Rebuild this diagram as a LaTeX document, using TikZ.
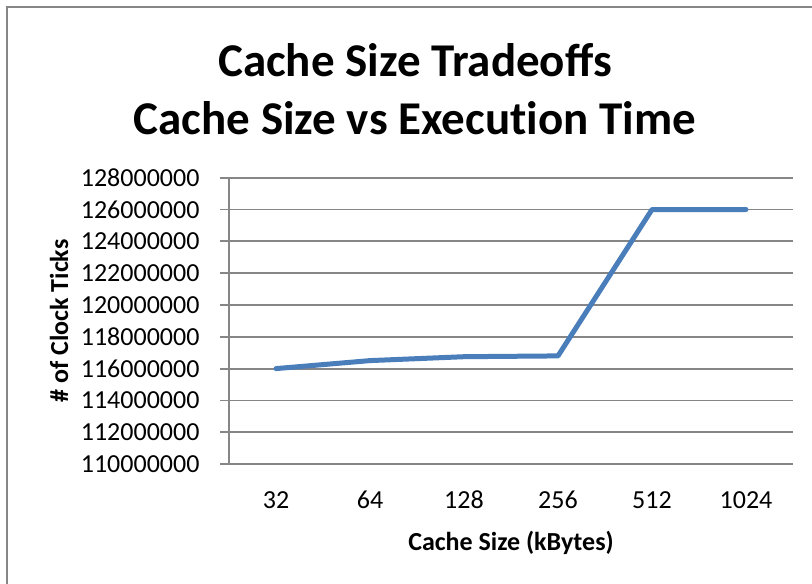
\documentclass[tikz,border=0pt]{standalone}
\usepackage{fontspec}
\setmainfont{Carlito}
\usetikzlibrary{calc}
\definecolor{axisGray}{HTML}{868686}
\definecolor{seriesBlue}{HTML}{4A7EBB}
\newcommand{\drawGridLine}[3]{
	\draw[gridline] (Y_L |- 0,#2) -- (Y_R |- 0,#2);
	\draw[gridline] ($(Y_L |- 0,#2)+(-9,0)$) -- (Y_L |- 0,#2);
	\node[ylabel] (#1) at (203,#2) {#3};
}
\newcommand{\drawCategory}[3]{
	\node[xlabel] (#1) at (#2,500) {#3};
}

\begin{document}
\begin{tikzpicture}[x=1pt,y=-1pt,
		gridline/.style={axisGray, line width=1.8},
		ylabel/.style={anchor=east, font=\fontsize{26}{26}\selectfont},
		xlabel/.style={font=\fontsize{26}{26}\selectfont},
		series/.style={seriesBlue, line width=5, line cap=round, line join=round}]
		\useasboundingbox (0,0) rectangle (812,584);
		\fill[white] (0,0) rectangle (812,584);
		\draw[axisGray, line width=2] (7,584) -- (7,7) -- (812,7);

		\coordinate (Y_L) at (229,464);
		\coordinate (Y_R) at (793,177.7);

		% title
		\node[font=\fontsize{47}{58}\selectfont\bfseries] (title1) at (415,60) {Cache Size Tradeoffs};
		\node[font=\fontsize{47}{58}\selectfont\bfseries] (title2) at (415,118) {Cache Size vs Execut\kern0pt ion Time};

		% value axis
		\drawGridLine{v128}{177.7}{128000000}
		\drawGridLine{v126}{209.5}{126000000}
		\drawGridLine{v124}{241.3}{124000000}
		\drawGridLine{v122}{273.1}{122000000}
		\drawGridLine{v120}{305.0}{120000000}
		\drawGridLine{v118}{336.8}{118000000}
		\drawGridLine{v116}{368.6}{116000000}
		\drawGridLine{v114}{400.4}{114000000}
		\drawGridLine{v112}{432.2}{112000000}
		\drawGridLine{v110}{464.0}{110000000}
		\draw[gridline] (Y_L) -- (Y_L |- Y_R);
		\node[rotate=90, font=\fontsize{26}{26}\selectfont\bfseries] (ytitle) at (59,321) {\# of Clock Ticks};

		% category axis
		\drawCategory{c32}{276}{32}
		\drawCategory{c64}{370}{64}
		\drawCategory{c128}{464}{128}
		\drawCategory{c256}{558}{256}
		\drawCategory{c512}{652}{512}
		\drawCategory{c1024}{746}{1024}
		\node[font=\fontsize{26}{26}\selectfont\bfseries] (xtitle) at (511,543) {Cache Size (kBytes)};

		% data
		\coordinate (P1) at (276,368.6);
		\coordinate (P2) at (370,360.6);
		\coordinate (P3) at (464,356.7);
		\coordinate (P4) at (558,355.9);
		\coordinate (P5) at (652,209.5);
		\coordinate (P6) at (746,209.5);
		\draw[series] (P1) -- (P2) -- (P3) -- (P4) -- (P5) -- (P6);

	\end{tikzpicture}
\end{document}
